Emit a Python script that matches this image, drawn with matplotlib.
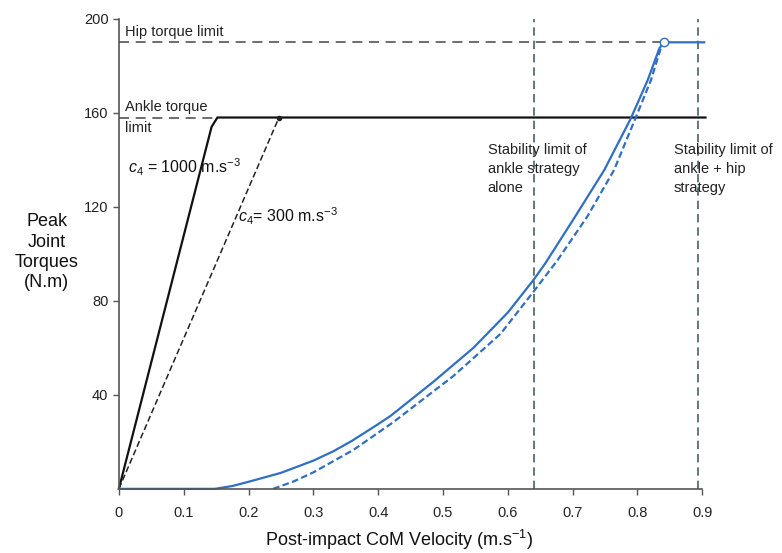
import matplotlib.pyplot as plt

plt.rcParams["font.family"] = ["Liberation Sans", "DejaVu Sans"]
plt.rcParams["mathtext.fontset"] = "custom"
plt.rcParams["mathtext.rm"] = "Liberation Sans"
plt.rcParams["mathtext.it"] = "Liberation Sans:italic"

# limits (N.m) and stability limits (m/s)
hip_limit = 190
ankle_limit = 158
stab_ankle = 0.64
stab_hip = 0.893

# linear ramps for two c4 values
c4_1000_x = [0.0, 0.143, 0.152, 0.905]
c4_1000_y = [0.0, 154, 158, 158]
c4_300_x = [0.0, 0.247]
c4_300_y = [0.0, 158]

# blue curves (solid and dashed)
solid_x = [0.0, 0.148, 0.175, 0.2, 0.25, 0.3, 0.331, 0.36, 0.397, 0.419, 0.485,
           0.547, 0.6, 0.64, 0.658, 0.702, 0.749, 0.79, 0.816, 0.834, 0.841, 0.903]
solid_y = [0.0, 0.0, 1.2, 3, 6.8, 12, 16, 20.5, 27, 31, 45.5,
           60, 75, 89, 96, 115, 135.7, 157.7, 174, 187.5, 190, 190]
dashed_x = [0.238, 0.27, 0.3, 0.362, 0.424, 0.516, 0.589, 0.64, 0.677, 0.723,
            0.764, 0.797, 0.821, 0.836, 0.841]
dashed_y = [0.0, 3.2, 7, 16.6, 28.5, 48, 66, 84, 97.4, 116,
            135.7, 157.7, 174, 187.5, 190]

x_ticks = [0, 0.1, 0.2, 0.3, 0.4, 0.5, 0.6, 0.7, 0.8, 0.9]
x_tick_labels = ["0", "0.1", "0.2", "0.3", "0.4", "0.5", "0.6", "0.7", "0.8", "0.9"]
y_ticks = [40, 80, 120, 160, 200]

blue = "#2f6fc4"
gray = "#555555"
vline_color = "#4d6068"

fig = plt.figure(figsize=(7.82, 5.53), dpi=100)
ax = fig.add_axes([0.152, 0.116, 0.746, 0.85])

ax.set_xlim(0, 0.9)
ax.set_ylim(0, 200)

# torque limits
ax.plot([0, 0.835], [hip_limit, hip_limit], color=gray, lw=1.2, ls=(0, (6, 4)))
ax.plot([0, 0.152], [ankle_limit, ankle_limit], color=gray, lw=1.2, ls=(0, (6, 4)))

# stability limits
for xv in (stab_ankle, stab_hip):
    ax.plot([xv, xv], [0, 200], color=vline_color, lw=1.2, ls=(0, (5, 3)),
            clip_on=False)

# c4 ramps
ax.plot(c4_1000_x, c4_1000_y, color="#111111", lw=1.6, clip_on=False)
ax.plot(c4_300_x, c4_300_y, color="#222222", lw=1.1, ls=(0, (4, 2)))
ax.plot(c4_300_x[-1:], c4_300_y[-1:], "o", color="#222222", ms=3)

# blue curves
ax.plot(solid_x, solid_y, color=blue, lw=1.6, clip_on=False)
ax.plot(dashed_x, dashed_y, color=blue, lw=1.6, ls=(0, (3, 1.5)))
ax.plot([solid_x[-2]], [solid_y[-2]], "o", mfc="white", mec=blue, ms=6, mew=1.0,
        zorder=5)

# annotations
ax.text(0.01, hip_limit + 1.5, "Hip torque limit", fontsize=10.5, va="bottom",
        color="#222222")
ax.text(0.01, ankle_limit + 1.5, "Ankle torque", fontsize=10.5, va="bottom",
        color="#222222")
ax.text(0.01, ankle_limit - 1.5, "limit", fontsize=10.5, va="top", color="#222222")
ax.text(0.014, 137, r"$c_4$ = 1000 m.s$^{-3}$", fontsize=11.5, va="center",
        color="#111111")
ax.text(0.184, 116, r"$c_4$= 300 m.s$^{-3}$", fontsize=11.5, va="center",
        color="#111111")
ax.text(0.569, 147, "Stability limit of\nankle strategy\nalone", fontsize=10.5,
        va="top", linespacing=1.45, color="#222222")
ax.text(0.856, 147, "Stability limit of\nankle + hip\nstrategy", fontsize=10.5,
        va="top", linespacing=1.45, color="#222222")

# axes styling
for side in ("top", "right"):
    ax.spines[side].set_visible(False)
for side in ("left", "bottom"):
    ax.spines[side].set_color(gray)
    ax.spines[side].set_linewidth(1.2)

ax.set_xticks(x_ticks)
ax.set_xticklabels(x_tick_labels)
ax.set_yticks(y_ticks)
ax.tick_params(direction="out", length=4, width=1, color=gray,
               labelsize=10.5, labelcolor="#222222")
ax.tick_params(axis="x", pad=8)

fig.text(0.06, 0.544, "Peak\nJoint\nTorques\n(N.m)", fontsize=13, ha="center",
         va="center", linespacing=1.25, color="#111111")
fig.text(0.51, 1 - 540 / 553, r"Post-impact CoM Velocity (m.s$^{-1}$)",
         fontsize=13, ha="center", va="center", color="#111111")

fig.savefig("out.png", dpi=100)
